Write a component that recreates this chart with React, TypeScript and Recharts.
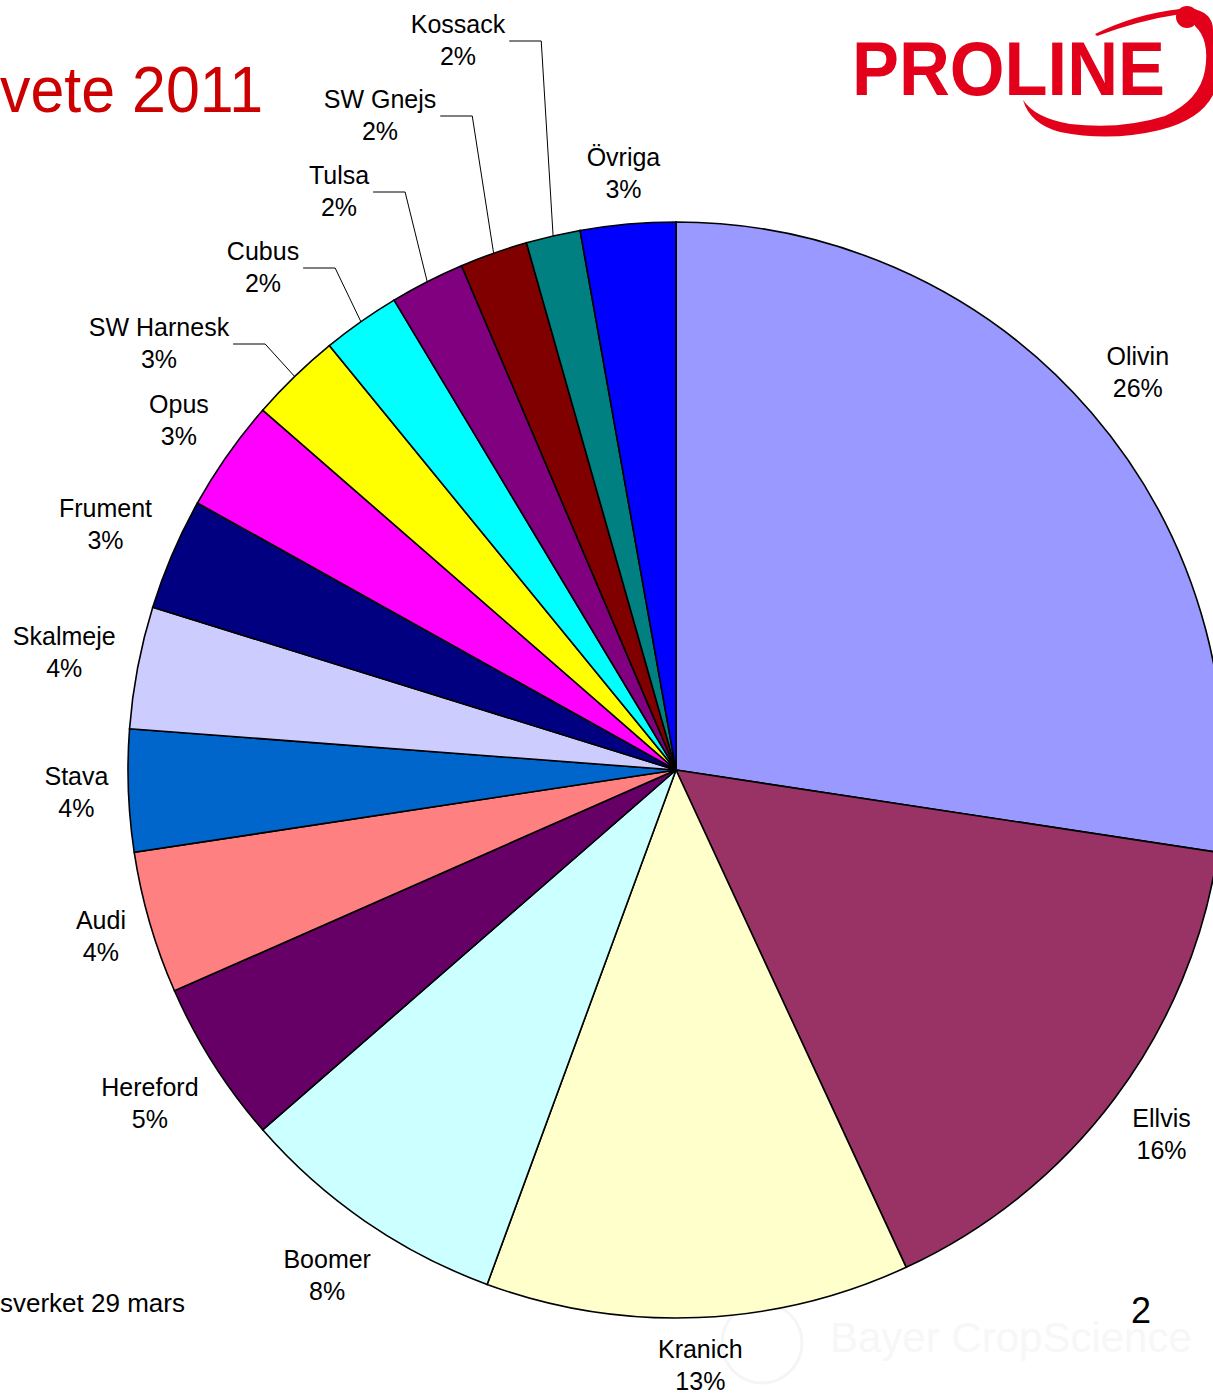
import { PieChart, Pie, Cell } from "recharts";

// sort shares (clockwise from 12 o'clock)
const varieties = [
  "Olivin", "Ellvis", "Kranich", "Boomer", "Hereford", "Audi", "Stava", "Skalmeje",
  "Frument", "Opus", "SW Harnesk", "Cubus", "Tulsa", "SW Gnejs", "Kossack", "Övriga",
];
const shares = [27.4, 15.7, 12.5, 8.0, 4.8, 4.2, 3.6, 3.6, 3.3, 3.3, 2.7, 2.3, 2.2, 2.0, 1.6, 2.8];
const shareLabels = ["26%", "16%", "13%", "8%", "5%", "4%", "4%", "4%", "3%", "3%", "3%", "2%", "2%", "2%", "2%", "3%"];
const colors = [
  "#9999FF", "#993366", "#FFFFCC", "#CCFFFF", "#660066", "#FF8080", "#0066CC", "#CCCCFF",
  "#000080", "#FF00FF", "#FFFF00", "#00FFFF", "#800080", "#800000", "#008080", "#0000FF",
];

const data = varieties.map((name, i) => ({ name, value: shares[i] }));

// labels that were dragged away from the pie and got leader lines
const leaderSpots: Record<string, [number, number]> = {
  "SW Harnesk": [159, 344],
  Cubus: [263, 268],
  Tulsa: [339, 192],
  "SW Gnejs": [380, 116],
  Kossack: [458, 41],
};

const FONT = "'Liberation Sans', Arial, sans-serif";
const LABEL_SIZE = 25;
const LABEL_GAP = 19;
const LABEL_HALF_H = 28;
const RAD = Math.PI / 180;

let measureCtx: CanvasRenderingContext2D | null = null;
const textWidth = (s: string) => {
  if (!measureCtx) {
    measureCtx = document.createElement("canvas").getContext("2d");
  }
  if (!measureCtx) return s.length * LABEL_SIZE * 0.55;
  measureCtx.font = `${LABEL_SIZE}px 'Liberation Sans'`;
  return measureCtx.measureText(s).width;
};

const labelText = (x: number, y: number, i: number) => (
  <text textAnchor="middle" fontFamily={FONT} fontSize={LABEL_SIZE} fill="#000">
    <tspan x={x} y={y - 8}>{varieties[i]}</tspan>
    <tspan x={x} y={y + 24}>{shareLabels[i]}</tspan>
  </text>
);

const renderLabel = (props: any) => {
  const { cx, cy, midAngle, outerRadius, index } = props;
  const name = varieties[index];
  const spot = leaderSpots[name];
  const ux = Math.cos(-midAngle * RAD);
  const uy = Math.sin(-midAngle * RAD);
  if (spot) {
    const [lx, ly] = spot;
    const ex = cx + outerRadius * ux;
    const ey = cy + outerRadius * uy;
    const sx = lx + textWidth(name) / 2 + 4;
    return (
      <g key={`lbl-${index}`}>
        <polyline
          points={`${sx},${ly} ${sx + 32},${ly} ${ex},${ey}`}
          fill="none"
          stroke="#000"
          strokeWidth={1}
        />
        {labelText(lx, ly, index)}
      </g>
    );
  }
  // place the label box so its near edge sits a fixed gap outside the rim
  const halfW = Math.max(textWidth(name), textWidth(shareLabels[index])) / 2;
  const r = outerRadius + LABEL_GAP + halfW * Math.abs(ux) + LABEL_HALF_H * Math.abs(uy);
  const lx = cx + r * ux;
  const ly = cy + r * uy;
  return <g key={`lbl-${index}`}>{labelText(lx, ly, index)}</g>;
};

export default function App() {
  return (
    <div
      style={{
        position: "absolute",
        left: 0,
        top: 0,
        width: 1213,
        height: 1397,
        overflow: "hidden",
        background: "#fff",
      }}
    >
      <svg
        width={1213}
        height={1397}
        style={{ position: "absolute", left: 0, top: 0 }}
      >
        {/* faint watermark */}
        <circle cx={762} cy={1343} r={40} fill="none" stroke="#f5f5f5" strokeWidth={3} />
        <text x={830} y={1352} fontFamily={FONT} fontSize={42} fill="#f7f7f7">
          Bayer CropScience
        </text>

        <text
          x={0}
          y={112}
          fontFamily={FONT}
          fontSize={64}
          fill="#CC0000"
          textLength={263}
          lengthAdjust="spacingAndGlyphs"
        >
          vete 2011
        </text>
        <text x={0} y={1312} fontFamily={FONT} fontSize={26} fill="#000">
          sverket 29 mars
        </text>
        <text x={1141} y={1323} textAnchor="middle" fontFamily={FONT} fontSize={36} fill="#000">
          2
        </text>

        {/* PROLINE logo */}
        <g fill="#E2001A">
          <text
            x={852}
            y={95}
            fontFamily={FONT}
            fontWeight="bold"
            fontSize={76}
            textLength={313}
            lengthAdjust="spacingAndGlyphs"
          >
            PROLINE
          </text>
          <path d="M1095,34 Q1135,14 1180,9 L1181,14 Q1140,20 1097,36 Z" />
          <circle cx={1187} cy={17} r={11} />
          <path d="M1190,8 Q1213,12 1213,30 L1213,95 Q1200,120 1160,130 Q1110,142 1060,132 Q1030,124 1023,100 Q1035,118 1070,124 Q1120,130 1165,116 Q1200,100 1205,70 Q1210,40 1195,26 Z" />
        </g>
      </svg>

      <div style={{ position: "absolute", left: 0, top: 0 }}>
        <PieChart width={1213} height={1397} margin={{ top: 0, right: 0, bottom: 0, left: 0 }}>
          <Pie
            data={data}
            dataKey="value"
            nameKey="name"
            cx={676}
            cy={770}
            innerRadius={0}
            outerRadius={548}
            startAngle={90}
            endAngle={-270}
            stroke="#000"
            strokeWidth={1.6}
            label={renderLabel}
            labelLine={false}
            isAnimationActive={false}
          >
            {data.map((d, i) => (
              <Cell key={d.name} fill={colors[i]} />
            ))}
          </Pie>
        </PieChart>
      </div>
    </div>
  );
}
